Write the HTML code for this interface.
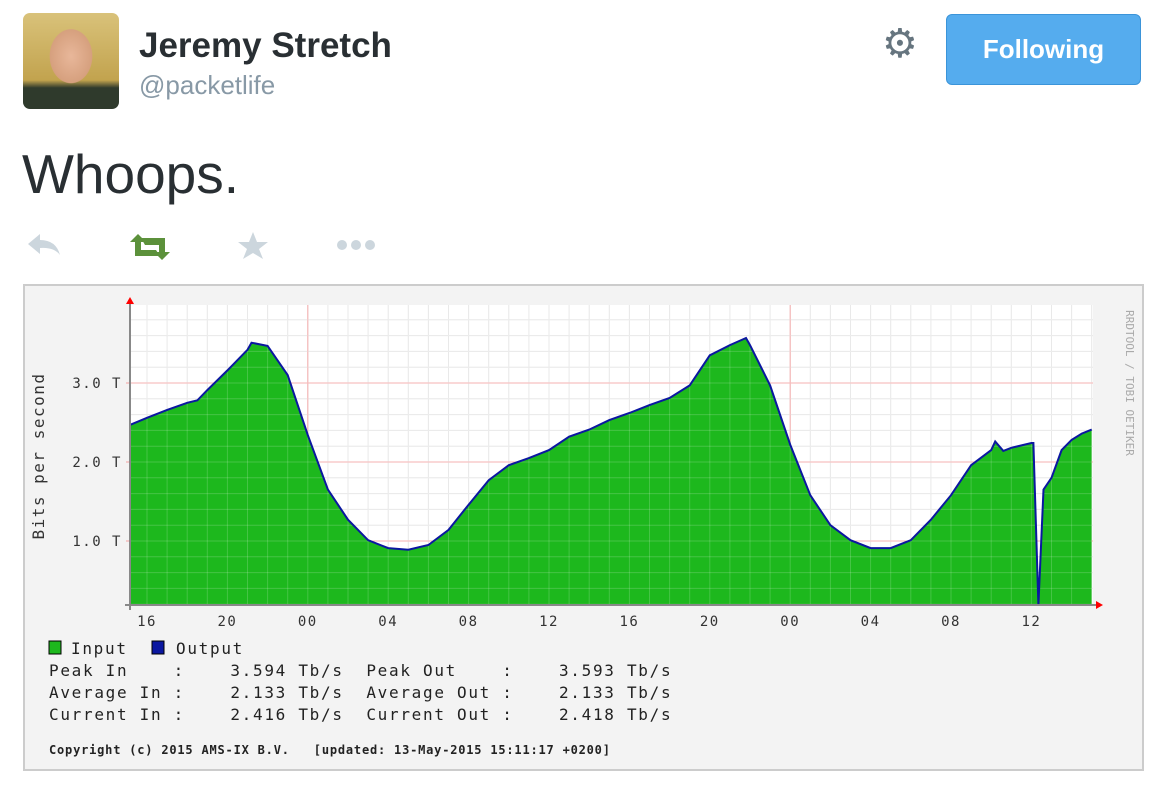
<!DOCTYPE html>
<html><head><meta charset="utf-8">
<style>
body{margin:0;width:1157px;height:790px;background:#fff;position:relative;overflow:hidden;font-family:"Liberation Sans",sans-serif}
.abs{position:absolute}
</style></head><body>
<div class="abs" style="left:23px;top:13px;width:96px;height:96px;border-radius:7px;background:radial-gradient(ellipse 30px 38px at 50% 45%,#e8b79a 0%,#d6a07e 70%,transparent 72%),linear-gradient(180deg,#d9c27a,#c2a34e 70%,#2f3a2c 78%);"></div>
<div class="abs" style="left:139px;top:26px;font-size:35px;font-weight:bold;color:#292f33">Jeremy Stretch</div>
<div class="abs" style="left:139px;top:70px;font-size:26px;color:#8899a6">@packetlife</div>
<div class="abs" style="left:882px;top:24px;font-size:40px;color:#66757f;line-height:40px">⚙</div>
<div class="abs" style="left:946px;top:14px;width:195px;height:71px;border-radius:6px;background:#55acee;border:1px solid #3b94d9;box-sizing:border-box;color:#fff;font-size:26px;font-weight:bold;text-align:center;line-height:69px">Following</div>
<div class="abs" style="left:22px;top:142px;font-size:55px;color:#292f33">Whoops.</div>
<svg class="abs" style="left:0;top:225px" width="400" height="40">
<path d="M28 19 L40 9 L40 15 Q56 15 60 30 Q54 22 40 23 L40 29 Z" fill="#ccd6dd"/>
<g fill="#5c913b"><path d="M130 17 L138 9 L146 17 L141 17 L141 25 L156 25 L160 31 L135 31 L135 17 Z"/><path d="M170 27 L162 35 L154 27 L159 27 L159 20 L145 20 L141 13 L165 13 L165 27 Z"/></g>
<path d="M253 7 L257 17 L268 17 L259 24 L263 34 L253 28 L243 34 L247 24 L238 17 L249 17 Z" fill="#ccd6dd"/>
<g fill="#ccd6dd"><circle cx="342" cy="20" r="5"/><circle cx="356" cy="20" r="5"/><circle cx="370" cy="20" r="5"/></g>
</svg>
<svg class="abs" id="chart" style="left:0;top:0" width="1157" height="790">
<rect x="24" y="285" width="1119" height="485" fill="#f3f3f3" stroke="#cccccc" stroke-width="2"/>
<rect x="130" y="305" width="963" height="300" fill="#ffffff"/>
<g id="grid"></g><g id="series"></g><g id="axes"></g>
<text x="44" y="456" transform="rotate(-90 44 456)" text-anchor="middle" font-family="DejaVu Sans Mono,monospace" font-size="16" letter-spacing="1.5" fill="#333">Bits per second</text>
<text x="1126" y="383" transform="rotate(90 1126 383)" text-anchor="middle" font-family="DejaVu Sans Mono,monospace" font-size="11" fill="#aaa">RRDTOOL / TOBI OETIKER</text>
<g font-family="DejaVu Sans Mono,Liberation Mono,monospace" font-size="16" fill="#222" letter-spacing="1.7">
<rect x="49" y="641" width="12" height="13" fill="#1db81d" stroke="#000" stroke-width="1"/>
<text x="71" y="654">Input</text>
<rect x="152" y="641" width="12" height="13" fill="#0b17a0" stroke="#000" stroke-width="1"/>
<text x="176" y="654">Output</text>
<text x="49" y="676" xml:space="preserve">Peak In    :    3.594 Tb/s  Peak Out    :    3.593 Tb/s</text>
<text x="49" y="698" xml:space="preserve">Average In :    2.133 Tb/s  Average Out :    2.133 Tb/s</text>
<text x="49" y="720" xml:space="preserve">Current In :    2.416 Tb/s  Current Out :    2.418 Tb/s</text>
<text x="49" y="754" font-size="12" font-weight="bold" letter-spacing="0.8" xml:space="preserve">Copyright (c) 2015 AMS-IX B.V.   [updated: 13-May-2015 15:11:17 +0200]</text>
</g>
</svg>
<script>
// hours since 16:00 on day 1, traffic in Tb/s
const hours=[-0.85,0,1,2,2.5,3,4,5,5.2,6,7,8,9,10,11,12,13,14,15,16,17,18,19,20,21,22,23,24,25,26,27,28,29,29.8,30,31,32,33,34,35,36,37,38,39,40,41,42,42.2,42.6,43,44,44.1,44.35,44.6,45,45.5,46,46.5,47];
const inputTb=[2.47,2.56,2.66,2.75,2.78,2.91,3.16,3.42,3.51,3.47,3.10,2.34,1.65,1.27,1.01,0.91,0.89,0.95,1.14,1.46,1.77,1.96,2.05,2.15,2.32,2.41,2.53,2.62,2.72,2.81,2.97,3.35,3.48,3.57,3.48,2.97,2.22,1.58,1.20,1.01,0.91,0.91,1.01,1.27,1.58,1.96,2.15,2.26,2.14,2.18,2.24,2.24,0.19,1.65,1.80,2.15,2.28,2.36,2.41];
const xTickLabels=["16","20","00","04","08","12","16","20","00","04","08","12"];
const yTicks=[1,2,3];
const yTickLabels=["1.0 T","2.0 T","3.0 T"];
const NS="http://www.w3.org/2000/svg";
const L=130,R=1093,T=305,B=605;
const xs=h=>147+h*20.1;
const ys=v=>Math.min(B,620-79*v);
function mk(tag,attrs,parent){const e=document.createElementNS(NS,tag);for(const k in attrs)e.setAttribute(k,attrs[k]);parent.appendChild(e);return e;}
const grid=document.getElementById('grid'),ser=document.getElementById('series'),ax=document.getElementById('axes');
for(let h=-0;xs(h)<=R;h++){const l=mk('line',{x1:xs(h),x2:xs(h),y1:T,y2:B,stroke:'#e4e4e4','stroke-width':1},grid);

}
for(let v=0.2;ys(v)>=T;v+=0.2){if(ys(v)>=B)continue;const l=mk('line',{x1:L,x2:R,y1:ys(v),y2:ys(v),stroke:'#e4e4e4','stroke-width':1},grid);

}
[8,32].forEach(h=>{const l=mk('line',{x1:xs(h),x2:xs(h),y1:T,y2:B,stroke:'#f4a0a0','stroke-width':1},grid);

});
yTicks.forEach((v,i)=>{const l=mk('line',{x1:L-4,x2:R,y1:ys(v),y2:ys(v),stroke:'#f4a0a0','stroke-width':1},grid);


const t=mk('text',{x:L-8,y:ys(v)+5,'text-anchor':'end','font-family':'DejaVu Sans Mono,monospace','font-size':'14','letter-spacing':'1.5',fill:'#333'},ax);t.textContent=yTickLabels[i];

});
let d='M'+xs(hours[0])+' '+B;
hours.forEach((h,i)=>{d+=' L'+xs(h).toFixed(1)+' '+ys(inputTb[i]).toFixed(1);});
d+=' L'+xs(hours[hours.length-1])+' '+B+' Z';
const area=mk('path',{d:d,fill:'#1db81d'},ser);


for(let h=0;xs(h)<=R;h++){const l=mk('line',{x1:xs(h),x2:xs(h),y1:T,y2:B,stroke:'rgba(255,255,255,0.18)'},ser);

}
for(let v=0.2;ys(v)>=T;v+=0.2){if(ys(v)>=B)continue;const l=mk('line',{x1:L,x2:R,y1:ys(v),y2:ys(v),stroke:'rgba(255,255,255,0.18)'},ser);

}
let ld='';hours.forEach((h,i)=>{ld+=(i?' L':'M')+xs(h).toFixed(1)+' '+ys(inputTb[i]).toFixed(1);});
const line=mk('path',{d:ld,fill:'none',stroke:'#0b17a0','stroke-width':2},ser);


const ya=mk('line',{x1:L,x2:L,y1:300,y2:610,stroke:'#888','stroke-width':2},ax);


const xa=mk('line',{x1:125,x2:1098,y1:B,y2:B,stroke:'#888','stroke-width':2},ax);


const a1=mk('path',{d:'M126 304 L134 304 L130 297 Z',fill:'#f00'},ax);


const a2=mk('path',{d:'M1096 601 L1096 609 L1103 605 Z',fill:'#f00'},ax);


xTickLabels.forEach((s,i)=>{const t=mk('text',{x:xs(i*4),y:626,'text-anchor':'middle','font-family':'DejaVu Sans Mono,monospace','font-size':'14','letter-spacing':'1.5',fill:'#333'},ax);t.textContent=s;

});
</script>
</body></html>
